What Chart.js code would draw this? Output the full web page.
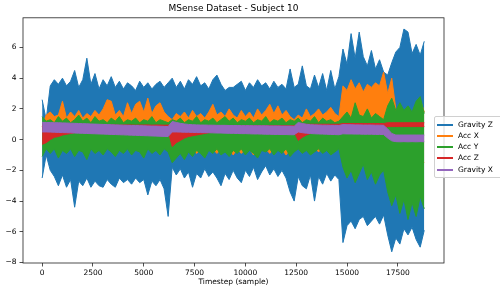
<!DOCTYPE html>
<html>
<head>
<meta charset="utf-8">
<script src="https://cdn.jsdelivr.net/npm/chart.js@4/dist/chart.umd.min.js"></script>
<style>
  body { margin: 0; overflow: hidden; background: #fff; }
  #wrap { position: relative; width: 500px; height: 293px; overflow: hidden; }
  #legend { position: absolute; left: 434px; top: 116px; width: 80px; height: 60px;
            border: 1px solid #d0d0d0; border-radius: 2px; background: rgba(255,255,255,0.8);
            font-family: 'DejaVu Sans'; font-size: 7.5px; color: #000; }
  .row { position: absolute; left: 0; height: 10px; width: 80px; }
  .row span.ln { position: absolute; left: 2px; top: 4px; width: 16px; height: 2px; }
  .row span.tx { position: absolute; left: 23px; top: 0; line-height: 10px; white-space: nowrap; }
</style>
</head>
<body>
<div id="wrap">
  <canvas id="plot" width="500" height="293"></canvas>
  <div id="legend"></div>
</div>
<script>
// sample index of each envelope reading (every 200 samples)
var samples = [0,200,400,600,800,1000,1200,1400,1600,1800,
  2000,2200,2400,2600,2800,3000,3200,3400,3600,3800,
  4000,4200,4400,4600,4800,5000,5200,5400,5600,5800,
  6000,6200,6400,6600,6800,7000,7200,7400,7600,7800,
  8000,8200,8400,8600,8800,9000,9200,9400,9600,9800,
  10000,10200,10400,10600,10800,11000,11200,11400,11600,11800,
  12000,12200,12400,12600,12800,13000,13200,13400,13600,13800,
  14000,14200,14400,14600,14800,15000,15200,15400,15600,15800,
  16000,16200,16400,16600,16800,17000,17200,17400,17600,17800,
  18000,18200,18400,18600,18800];

var names = ["Gravity Z", "Acc X", "Acc Y", "Acc Z", "Gravity X"];
var colors = ['#1f77b4', '#ff7f0e', '#2ca02c', '#d62728', '#9467bd'];

// upper / lower envelope of each signal
var gravZHi = [2.6,1.3,3.5,3.9,3.6,4.0,3.5,3.8,4.5,3.4,
  3.9,5.3,3.6,4.3,3.3,3.9,3.5,4.1,3.4,3.8,
  3.3,3.7,3.5,3.2,3.8,3.4,3.7,3.3,3.6,3.8,
  3.4,3.7,4.0,3.4,3.8,3.3,3.9,3.6,4.1,3.5,
  3.7,3.3,3.9,4.2,3.6,3.2,3.4,3.4,3.6,3.8,
  3.2,3.7,3.4,3.9,3.5,3.7,3.3,3.8,3.4,3.6,
  3.3,4.6,3.4,3.6,4.8,3.5,3.3,4.2,3.4,4.3,
  3.2,4.5,3.3,4.1,5.9,4.9,6.9,5.3,7.0,5.4,
  4.8,5.8,4.6,5.2,4.4,4.2,5.0,5.7,6.0,7.2,
  7.0,5.6,6.2,5.5,6.4];
var gravZLo = [-2.5,-1.0,-2.0,-2.4,-3.0,-2.3,-3.1,-2.6,-4.4,-2.7,
  -3.0,-2.5,-3.1,-2.7,-3.0,-3.1,-2.6,-2.9,-3.1,-2.5,
  -2.8,-2.6,-2.9,-2.5,-2.8,-2.6,-3.6,-2.7,-3.0,-2.6,
  -3.2,-5.0,-1.8,-2.3,-1.9,-2.5,-2.1,-3.1,-2.2,-2.5,
  -1.9,-2.4,-2.1,-2.5,-3.0,-2.2,-2.6,-2.0,-2.5,-2.8,
  -2.0,-2.4,-1.8,-2.6,-2.1,-1.7,-2.3,-1.9,-2.4,-2.0,
  -2.5,-3.4,-4.0,-2.4,-3.0,-3.2,-2.3,-4.0,-2.4,-2.9,
  -2.2,-2.7,-2.3,-2.6,-6.7,-5.6,-5.3,-5.8,-5.2,-5.0,
  -5.6,-5.3,-5.0,-5.5,-4.9,-6.2,-7.3,-6.4,-6.8,-5.8,
  -6.2,-5.7,-6.5,-7.0,-5.9];

var accXHi = [0.85,1.6,1.8,1.5,1.6,2.5,1.4,1.8,1.5,1.9,
  1.4,1.7,1.5,1.9,1.6,2.0,2.6,2.5,1.6,1.9,
  1.5,2.4,1.7,2.3,2.5,1.8,2.7,1.7,2.2,2.4,
  1.8,1.5,1.3,1.7,1.5,1.8,1.4,1.9,1.5,1.7,
  1.4,1.8,2.3,1.6,1.8,1.5,2.0,1.6,1.4,1.9,
  1.5,1.8,1.4,2.0,1.6,1.9,2.3,1.7,2.2,1.6,
  1.9,1.5,1.3,1.6,1.4,2.0,1.5,1.7,2.0,1.6,
  1.8,2.1,1.7,1.5,3.5,3.2,3.9,3.3,3.7,3.1,
  3.6,3.4,3.7,3.5,4.4,3.0,4.0,2.0,1.6,1.5,
  1.8,1.6,2.0,2.6,1.8];
var accXLo = [-0.3,-0.5,-0.5,-0.5,-0.5,-0.5,-0.5,-0.5,-0.5,-0.5,
  -0.5,-0.5,-0.5,-0.5,-0.5,-0.5,-0.5,-0.5,-0.5,-0.5,
  -0.5,-0.5,-0.5,-0.5,-0.5,-0.5,-0.5,-0.5,-0.5,-0.5,
  -0.5,-0.5,-0.6,-0.6,-0.6,-0.6,-0.6,-0.6,-0.9,-0.6,
  -0.6,-0.6,-0.6,-0.9,-0.6,-0.6,-0.6,-1.0,-0.6,-0.9,
  -0.6,-0.6,-1.0,-0.6,-0.6,-0.6,-0.9,-0.6,-0.6,-0.6,
  -1.0,-0.6,-0.6,-0.5,-0.5,-0.5,-0.5,-0.5,-0.8,-0.5,
  -0.5,-0.5,-0.5,-0.5,-1.2,-1.3,-1.2,-1.4,-1.2,-1.3,
  -1.2,-1.4,-1.3,-1.2,-1.3,-1.5,-1.4,-1.6,-1.5,-1.4,
  -1.6,-1.5,-1.4,-1.6,-1.5];

var accYHi = [1.5,1.2,1.3,1.1,1.5,1.2,1.4,1.1,1.3,1.6,
  1.2,1.4,1.1,1.5,1.2,1.3,1.1,1.4,1.2,1.5,
  1.1,1.3,1.2,1.4,1.1,1.3,1.2,1.5,1.1,1.3,
  1.2,1.1,1.3,1.2,1.4,1.1,1.3,1.2,1.5,1.1,
  1.3,1.2,1.4,1.1,1.3,1.5,1.2,1.4,1.1,1.3,
  1.2,1.4,1.1,1.3,1.2,1.5,1.1,1.3,1.2,1.4,
  1.1,1.3,1.2,1.4,1.1,1.3,1.2,1.5,1.1,1.4,
  1.2,1.3,1.1,1.2,1.5,1.8,1.4,2.4,1.6,1.5,
  2.0,1.4,1.7,1.5,1.3,2.2,2.7,1.9,2.4,1.9,
  2.2,1.8,2.5,2.8,1.7];
var accYLo = [-1.1,-0.6,-0.9,-0.6,-1.2,-0.7,-0.9,-0.6,-1.1,-0.7,
  -0.8,-1.3,-0.6,-0.9,-0.7,-1.0,-0.6,-0.8,-1.1,-0.7,
  -0.9,-0.6,-1.0,-0.7,-0.8,-1.2,-0.6,-0.9,-0.7,-1.0,
  -0.6,-0.8,-1.5,-1.2,-0.9,-1.3,-0.8,-1.1,-0.7,-0.9,
  -1.2,-0.7,-0.9,-0.6,-1.0,-0.8,-1.1,-0.7,-0.9,-0.6,
  -1.0,-0.7,-0.9,-1.2,-0.7,-0.8,-0.6,-1.0,-0.7,-0.9,
  -0.6,-1.1,-0.8,-0.6,-0.9,-0.7,-1.0,-0.8,-0.6,-0.9,
  -0.7,-1.0,-0.8,-0.6,-1.8,-2.5,-2.0,-2.8,-2.2,-1.6,
  -2.6,-2.1,-2.9,-2.3,-2.0,-3.4,-4.3,-3.6,-4.8,-3.9,
  -5.2,-4.1,-5.0,-3.7,-4.5];

var accZHi = [0.95,0.95,0.96,0.94,0.95,0.96,0.95,0.94,0.96,0.95,
  0.95,0.94,0.96,0.95,0.95,0.94,0.95,0.96,0.95,0.94,
  0.95,0.96,0.95,0.94,0.95,0.95,0.96,0.94,0.95,0.95,
  0.94,0.95,0.9,0.9,0.9,0.9,0.9,0.9,0.9,0.9,
  0.9,0.9,0.9,0.9,0.9,0.9,0.9,0.9,0.9,0.9,
  0.9,0.9,0.9,0.9,0.9,0.9,0.9,0.9,0.9,0.9,
  0.9,0.9,0.9,1.0,1.0,1.0,1.0,1.0,1.0,1.0,
  1.0,1.0,1.0,1.0,1.05,1.05,1.05,1.05,1.05,1.05,
  1.05,1.05,1.05,1.05,1.05,1.1,1.1,1.1,1.1,1.1,
  1.1,1.1,1.1,1.1,1.1];
var accZLo = [-0.3,-0.2,0.0,0.15,0.2,0.3,0.35,0.4,0.45,0.5,
  0.55,0.55,0.55,0.55,0.55,0.55,0.55,0.55,0.55,0.55,
  0.55,0.55,0.55,0.55,0.55,0.55,0.55,0.55,0.55,0.55,
  0.55,0.55,-0.45,-0.2,-0.05,0.1,0.2,0.25,0.3,0.35,
  0.4,0.45,0.5,0.5,0.5,0.5,0.5,0.5,0.5,0.5,
  0.5,0.5,0.5,0.5,0.5,0.5,0.5,0.5,0.5,0.5,
  0.5,0.5,0.5,-0.05,0.15,0.3,0.4,0.5,0.5,0.5,
  0.5,0.5,0.5,0.5,0.6,0.6,0.6,0.6,0.6,0.6,
  0.6,0.6,0.6,0.6,0.6,0.85,0.85,0.85,0.85,0.85,
  0.85,0.85,0.85,0.85,0.85];

var gravXHi = [1.12,1.12,1.11,1.1,1.1,1.09,1.08,1.07,1.06,1.05,
  1.04,1.03,1.02,1.01,1.0,0.99,0.98,0.97,0.96,0.95,
  0.94,0.93,0.92,0.92,0.91,0.9,0.89,0.88,0.88,0.87,
  0.86,0.85,1.18,1.12,1.06,1.02,0.99,0.97,0.96,0.95,
  0.95,0.94,0.94,0.93,0.93,0.93,0.92,0.92,0.92,0.91,
  0.91,0.91,0.9,0.9,0.9,0.9,0.89,0.89,0.89,0.88,
  0.88,0.88,0.87,1.12,1.05,1.0,0.97,0.96,0.95,0.94,
  0.94,0.93,0.93,0.92,0.98,0.97,0.97,0.96,0.96,0.95,
  0.95,0.95,0.94,0.94,0.93,0.7,0.4,0.3,0.3,0.3,
  0.3,0.3,0.3,0.3,0.3];
var gravXLo = [0.5,0.5,0.49,0.48,0.47,0.46,0.45,0.44,0.43,0.42,
  0.41,0.4,0.39,0.38,0.37,0.36,0.35,0.34,0.33,0.32,
  0.31,0.3,0.29,0.28,0.27,0.26,0.25,0.24,0.23,0.22,
  0.21,0.2,0.5,0.5,0.49,0.48,0.48,0.47,0.46,0.46,
  0.45,0.45,0.44,0.43,0.43,0.42,0.41,0.41,0.4,0.39,
  0.39,0.38,0.37,0.37,0.36,0.35,0.35,0.34,0.34,0.33,
  0.33,0.32,0.32,0.5,0.45,0.42,0.4,0.38,0.37,0.36,
  0.35,0.34,0.33,0.32,0.38,0.37,0.37,0.36,0.36,0.35,
  0.35,0.35,0.34,0.34,0.33,0.1,-0.08,-0.13,-0.14,-0.13,
  -0.14,-0.13,-0.14,-0.13,-0.14];

var highs = [gravZHi, accXHi, accYHi, accZHi, gravXHi];
var lows = [gravZLo, accXLo, accYLo, accZLo, gravXLo];

var xTicks = [0, 2500, 5000, 7500, 10000, 12500, 15000, 17500];
var yTicks = [-8, -6, -4, -2, 0, 2, 4, 6];

function pts(vals) {
  return vals.map(function(v, i) { return {x: samples[i], y: v}; });
}

function tickText(v) {
  return v < 0 ? '\u2212' + Math.abs(v) : String(v);
}

// each signal = upper line filled down to lower line
var datasets = [];
for (var k = 0; k < names.length; k++) {
  var z = names.length - k;   // first signal drawn at the bottom
  datasets.push({
    label: names[k], data: pts(highs[k]),
    borderColor: colors[k], backgroundColor: colors[k],
    borderWidth: 1, pointRadius: 0, tension: 0,
    fill: datasets.length + 1, order: z
  });
  datasets.push({
    label: names[k] + ' low', data: pts(lows[k]),
    borderColor: colors[k], backgroundColor: colors[k],
    borderWidth: 1, pointRadius: 0, tension: 0,
    fill: false, order: z
  });
}

var frame = {
  id: 'frame',
  afterDraw: function(chart) {
    var a = chart.chartArea, c = chart.ctx;
    c.save();
    c.strokeStyle = '#222';
    c.lineWidth = 0.8;
    c.strokeRect(a.left, a.top, a.right - a.left, a.bottom - a.top);
    c.restore();
  }
};

Chart.defaults.font.family = 'DejaVu Sans';
Chart.defaults.color = '#000';

window.onload = function() {
  var ctx = document.getElementById('plot').getContext('2d');
  new Chart(ctx, {
    type: 'line',
    data: { datasets: datasets },
    plugins: [frame],
    options: {
      responsive: false,
      animation: false,
      devicePixelRatio: 1,
      layout: { padding: { left: 0, right: 56, top: 0, bottom: 0 } },
      plugins: {
        legend: { display: false },
        tooltip: { enabled: false },
        title: {
          display: true, text: 'MSense Dataset - Subject 10', fullSize: false,
          font: { size: 9, weight: 'normal' }, color: '#000',
          padding: { top: 3, bottom: 4 }
        }
      },
      scales: {
        x: {
          type: 'linear', min: -941, max: 19771,
          afterBuildTicks: function(s) { s.ticks = xTicks.map(function(v) { return {value: v}; }); },
          afterFit: function(s) { s.height = 30; },
          ticks: { font: { size: 7.5 }, color: '#000', maxRotation: 0, autoSkip: false, padding: 2,
                   callback: function(v) { return tickText(v); } },
          grid: { drawOnChartArea: false, drawTicks: true, tickLength: 3.5, tickColor: '#222', tickWidth: 0.8 },
          border: { display: false },
          title: { display: true, text: 'Timestep (sample)', font: { size: 7.5 }, color: '#000',
                   padding: { top: 0, bottom: 6 } }
        },
        y: {
          min: -8.03, max: 7.93,
          afterBuildTicks: function(s) { s.ticks = yTicks.map(function(v) { return {value: v}; }); },
          afterFit: function(s) { s.width = 23; },
          ticks: { font: { size: 7.5 }, color: '#000', padding: 3,
                   callback: function(v) { return tickText(v); } },
          grid: { drawOnChartArea: false, drawTicks: true, tickLength: 3.5, tickColor: '#222', tickWidth: 0.8 },
          border: { display: false }
        }
      }
    }
  });

  // legend box sits over the right spine, like the original
  var leg = document.getElementById('legend');
  var rowTops = [3, 14, 25, 36, 48];
  for (var k = 0; k < names.length; k++) {
    var row = document.createElement('div');
    row.className = 'row';
    row.style.top = rowTops[k] + 'px';
    row.innerHTML = '<span class="ln" style="background:' + colors[k] + '"></span><span class="tx">' + names[k] + '</span>';
    leg.appendChild(row);
  }
};
</script>
</body>
</html>
